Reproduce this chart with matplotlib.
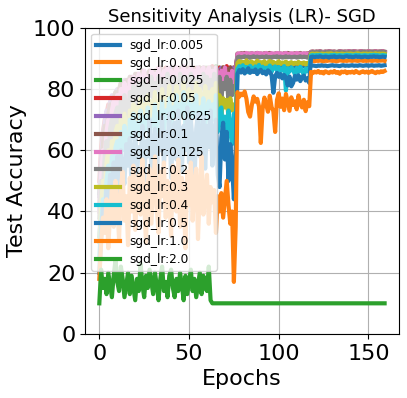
import numpy as np
import matplotlib
matplotlib.use("Agg")
import matplotlib.pyplot as plt

# test accuracy per epoch (0..159) for each SGD learning rate
lr_labels = ["sgd_lr:0.005", "sgd_lr:0.01", "sgd_lr:0.025", "sgd_lr:0.05", "sgd_lr:0.0625",
             "sgd_lr:0.1", "sgd_lr:0.125", "sgd_lr:0.2", "sgd_lr:0.3", "sgd_lr:0.4",
             "sgd_lr:0.5", "sgd_lr:1.0", "sgd_lr:2.0"]

acc_0005 = [32, 41, 47, 52, 55, 58, 60, 62, 64, 65,
            66, 68, 69, 70, 70, 71, 72, 73, 73, 74,
            74, 75, 75, 76, 76, 77, 77, 77, 78, 78,
            78, 79, 79, 79, 80, 80, 80, 80, 81, 81,
            81, 81, 82, 81, 82, 82, 82, 82, 83, 82,
            83, 83, 83, 83, 83, 84, 83, 84, 84, 84,
            84, 84, 84, 85, 84, 85, 85, 84, 85, 85,
            85, 85, 85, 85, 86, 85, 85, 87.2, 87.4, 87.3,
            87.5, 87.4, 87.6, 87.5, 87.3, 87.6, 87.5, 87.7, 87.4, 87.6,
            87.5, 87.3, 87.6, 87.4, 87.7, 87.5, 87.6, 87.4, 87.5, 87.3,
            87.6, 87.5, 87.4, 87.7, 87.5, 87.6, 87.3, 87.5, 87.6, 87.4,
            87.5, 87.6, 87.4, 87.5, 87.7, 87.3, 87.5, 87.6, 87.6, 87.7,
            87.6, 87.5, 87.7, 87.6, 87.8, 87.6, 87.7, 87.5, 87.6, 87.7,
            87.8, 87.6, 87.7, 87.6, 87.5, 87.7, 87.8, 87.6, 87.7, 87.6,
            87.7, 87.8, 87.6, 87.7, 87.6, 87.8, 87.7, 87.6, 87.7, 87.8,
            87.6, 87.7, 87.8, 87.6, 87.7, 87.7, 87.8, 87.6, 87.7, 87.8]

acc_001 = [40, 50, 56, 61, 64, 67, 69, 71, 72, 74,
           75, 76, 76, 77, 78, 78, 79, 79, 80, 80,
           80, 81, 81, 81, 82, 82, 82, 83, 82, 83,
           83, 83, 84, 83, 84, 84, 84, 84, 85, 84,
           85, 84, 85, 85, 85, 85, 86, 85, 85, 86,
           85, 86, 86, 85, 86, 86, 86, 86, 85, 86,
           86, 86, 86, 87, 86, 86, 87, 86, 86, 87,
           86, 87, 86, 87, 86, 87, 86, 88.3, 88.4, 88.2,
           88.4, 88.3, 88.5, 88.3, 88.4, 88.2, 88.4, 88.5, 88.3, 88.4,
           88.3, 88.5, 88.4, 88.2, 88.4, 88.3, 88.5, 88.4, 88.3, 88.4,
           88.5, 88.3, 88.4, 88.2, 88.4, 88.5, 88.3, 88.4, 88.3, 88.5,
           88.4, 88.3, 88.5, 88.4, 88.3, 88.4, 88.5, 88.3, 89.2, 89.3,
           89.1, 89.3, 89.2, 89.4, 89.2, 89.1, 89.3, 89.2, 89.4, 89.3,
           89.2, 89.3, 89.1, 89.2, 89.4, 89.3, 89.2, 89.3, 89.2, 89.4,
           89.3, 89.2, 89.4, 89.3, 89.2, 89.3, 89.4, 89.2, 89.3, 89.2,
           89.4, 89.3, 89.2, 89.3, 89.4, 89.2, 89.3, 89.3, 89.4, 89.2]

acc_0025 = [46, 58, 64, 68, 70, 73, 74, 76, 75, 78,
            77, 79, 78, 80, 79, 81, 80, 82, 81, 82,
            83, 82, 83, 84, 82, 84, 83, 85, 84, 83,
            85, 84, 85, 86, 84, 85, 86, 85, 86, 84,
            86, 85, 86, 87, 85, 86, 87, 86, 85, 87,
            86, 87, 86, 85, 87, 86, 87, 86, 87, 86,
            87, 86, 87, 86, 87, 87.5, 86, 87, 86.5, 87,
            86, 87, 86.5, 87, 86, 87, 86.5, 90.5, 90.7, 90.4,
            90.6, 90.5, 90.8, 90.4, 90.6, 90.7, 90.5, 90.6, 90.4, 90.7,
            90.5, 90.6, 90.8, 90.5, 90.4, 90.6, 90.7, 90.5, 90.6, 90.4,
            90.7, 90.5, 90.6, 90.4, 90.6, 90.8, 90.5, 90.6, 90.5, 90.7,
            90.6, 90.4, 90.6, 90.7, 90.5, 90.6, 90.4, 90.6, 91.5, 91.6,
            91.4, 91.6, 91.5, 91.7, 91.5, 91.4, 91.6, 91.5, 91.7, 91.6,
            91.5, 91.6, 91.4, 91.5, 91.7, 91.6, 91.5, 91.6, 91.5, 91.7,
            91.6, 91.5, 91.7, 91.6, 91.5, 91.6, 91.7, 91.5, 91.6, 91.5,
            91.7, 91.6, 91.5, 91.6, 91.7, 91.5, 91.6, 91.6, 91.7, 91.5]

acc_005 = [50, 61, 66, 70, 72, 75, 73, 77, 78, 76,
           79, 80, 78, 81, 82, 80, 83, 81, 84, 82,
           83, 85, 82, 84, 86, 83, 85, 84, 86, 83,
           85, 86, 84, 87, 85, 84, 86, 87, 85, 86,
           84, 87, 86, 85, 87, 86, 84, 87, 86, 85,
           87, 85, 86, 87, 84, 86, 87, 85, 87, 86,
           85, 87, 86, 87.5, 85, 87, 86, 87, 85.5, 87,
           86, 87.5, 86, 87, 86.5, 87, 86, 91.0, 91.2, 90.9,
           91.1, 91.0, 91.3, 90.9, 91.1, 91.2, 91.0, 91.1, 90.9, 91.2,
           91.0, 91.1, 91.3, 91.0, 90.9, 91.1, 91.2, 91.0, 91.1, 90.9,
           91.2, 91.0, 91.1, 90.9, 91.1, 91.3, 91.0, 91.1, 91.0, 91.2,
           91.1, 90.9, 91.1, 91.2, 91.0, 91.1, 90.9, 91.1, 91.8, 91.9,
           91.7, 91.9, 91.8, 92.0, 91.8, 91.7, 91.9, 91.8, 92.0, 91.9,
           91.8, 91.9, 91.7, 91.8, 92.0, 91.9, 91.8, 91.9, 91.8, 92.0,
           91.9, 91.8, 92.0, 91.9, 91.8, 91.9, 92.0, 91.8, 91.9, 91.8,
           92.0, 91.9, 91.8, 91.9, 92.0, 91.8, 91.9, 91.9, 92.0, 91.8]

acc_00625 = [45, 58, 65, 69, 73, 71, 76, 78, 75, 79,
             80, 78, 82, 80, 83, 81, 79, 84, 82, 83,
             81, 84, 85, 82, 84, 86, 83, 85, 82, 86,
             84, 86, 83, 85, 87, 84, 86, 85, 83, 86,
             87, 84, 86, 85, 87, 83, 86, 87, 85, 84,
             86, 87, 84, 86, 85, 87, 86, 84, 87, 85,
             86, 84, 87, 85, 86, 87, 84.5, 86, 87, 85,
             87, 85.5, 86.5, 84.5, 87, 85.5, 86, 91.3, 91.1, 91.4,
             91.2, 91.4, 91.1, 91.3, 91.5, 91.2, 91.3, 91.1, 91.4, 91.2,
             91.3, 91.5, 91.2, 91.1, 91.3, 91.4, 91.2, 91.3, 91.5, 91.2,
             91.1, 91.3, 91.4, 91.2, 91.5, 91.3, 91.1, 91.3, 91.2, 91.4,
             91.3, 91.2, 91.4, 91.1, 91.3, 91.2, 91.4, 91.3, 92.0, 92.1,
             91.9, 92.1, 92.0, 92.2, 92.0, 91.9, 92.1, 92.0, 92.2, 92.1,
             92.0, 92.1, 91.9, 92.0, 92.2, 92.1, 92.0, 92.1, 92.0, 92.2,
             92.1, 92.0, 92.2, 92.1, 92.0, 92.1, 92.2, 92.0, 92.1, 92.0,
             92.2, 92.1, 92.0, 92.1, 92.2, 92.0, 92.1, 92.1, 92.2, 92.0]

acc_01 = [42, 55, 62, 68, 66, 72, 75, 70, 77, 79,
          76, 80, 82, 78, 81, 83, 79, 84, 81, 83,
          85, 80, 84, 82, 86, 83, 81, 85, 86, 82,
          84, 86, 82, 85, 87, 83, 86, 84, 87, 85,
          82, 86, 87, 84, 85, 87, 83, 86, 85, 87,
          84, 86, 87, 83, 86, 85, 87, 84, 86, 87,
          85, 83, 87, 86, 84, 87, 85, 86, 84, 87,
          85, 86.5, 84, 87, 85.5, 86, 84.5, 91.6, 91.4, 91.7,
          91.5, 91.8, 91.4, 91.6, 91.5, 91.7, 91.4, 91.6, 91.8, 91.5,
          91.6, 91.4, 91.7, 91.5, 91.6, 91.8, 91.5, 91.4, 91.6, 91.7,
          91.5, 91.6, 91.4, 91.7, 91.5, 91.8, 91.6, 91.4, 91.5, 91.7,
          91.6, 91.5, 91.8, 91.4, 91.6, 91.5, 91.7, 91.5, 92.2, 92.3,
          92.1, 92.3, 92.2, 92.4, 92.2, 92.1, 92.3, 92.2, 92.4, 92.3,
          92.2, 92.3, 92.1, 92.2, 92.4, 92.3, 92.2, 92.3, 92.2, 92.4,
          92.3, 92.2, 92.4, 92.3, 92.2, 92.3, 92.4, 92.2, 92.3, 92.2,
          92.4, 92.3, 92.2, 92.3, 92.4, 92.2, 92.3, 92.3, 92.4, 92.2]

acc_0125 = [40, 52, 60, 57, 66, 70, 64, 73, 76, 71,
            78, 74, 80, 77, 82, 79, 75, 83, 80, 84,
            78, 82, 85, 80, 83, 86, 79, 84, 82, 86,
            81, 85, 83, 87, 80, 84, 86, 82, 87, 84,
            86, 81, 85, 87, 83, 86, 84, 87.5, 82, 86,
            85, 87, 82, 86, 84, 87, 83, 86, 87, 81,
            85, 87, 83, 86, 84, 87, 85, 80, 86, 83,
            87, 81, 85, 79, 86, 82, 84, 91.5, 91.7, 91.3,
            91.6, 91.4, 91.8, 91.5, 91.3, 91.7, 91.6, 91.4, 91.8, 91.5,
            91.7, 91.3, 91.6, 91.8, 91.4, 91.5, 91.7, 91.6, 91.3, 91.8,
            91.5, 91.7, 91.4, 91.6, 91.8, 91.5, 91.3, 91.7, 91.6, 91.4,
            91.8, 91.5, 91.6, 91.4, 91.7, 91.5, 91.6, 91.4, 92.1, 92.2,
            92.0, 92.2, 92.1, 92.3, 92.1, 92.0, 92.2, 92.1, 92.3, 92.2,
            92.1, 92.2, 92.0, 92.1, 92.3, 92.2, 92.1, 92.2, 92.1, 92.3,
            92.2, 92.1, 92.3, 92.2, 92.1, 92.2, 92.3, 92.1, 92.2, 92.1,
            92.3, 92.2, 92.1, 92.2, 92.3, 92.1, 92.2, 92.2, 92.3, 92.1]

acc_02 = [38, 50, 47, 58, 63, 56, 67, 70, 62, 72,
          74, 68, 76, 72, 78, 74, 70, 79, 76, 81,
          73, 79, 82, 76, 80, 83, 75, 81, 78, 84,
          77, 82, 80, 84, 76, 83, 81, 78, 85, 80,
          83, 77, 84, 81, 79, 85, 82, 78, 84, 80,
          82, 85, 78, 83, 80, 84, 77, 83, 85, 79,
          84, 80, 83, 78, 85, 81, 79, 84, 77, 82,
          80, 84, 76, 83, 78, 81, 79, 90.4, 90.6, 90.3,
          90.5, 90.7, 90.4, 90.6, 90.2, 90.5, 90.7, 90.4, 90.6, 90.3,
          90.5, 90.6, 90.3, 90.7, 90.4, 90.5, 90.2, 90.6, 90.5, 90.7,
          90.4, 90.6, 90.3, 90.5, 90.7, 90.4, 90.6, 90.3, 90.5, 90.6,
          90.3, 90.5, 90.7, 90.4, 90.6, 90.5, 90.3, 90.6, 92.0, 92.1,
          91.9, 92.1, 92.0, 92.2, 92.0, 91.9, 92.1, 92.0, 92.2, 92.0,
          92.1, 92.0, 91.9, 92.1, 92.2, 92.0, 92.1, 92.0, 91.9, 92.1,
          92.0, 92.2, 92.1, 92.0, 91.9, 92.1, 92.0, 92.2, 92.1, 92.0,
          92.1, 92.0, 92.2, 91.9, 92.1, 92.0, 92.1, 92.2, 92.0, 92.1]

acc_03 = [30, 42, 50, 45, 56, 60, 52, 63, 58, 66,
          68, 61, 70, 65, 72, 67, 62, 73, 69, 75,
          66, 74, 70, 77, 68, 75, 72, 78, 70, 76,
          73, 79, 69, 76, 74, 80, 71, 77, 75, 81,
          72, 78, 76, 81, 73, 79, 75, 82, 74, 78,
          80, 73, 79, 76, 82, 74, 80, 77, 72, 81,
          75, 79, 73, 80, 76, 82, 74, 78, 71, 77,
          74, 76.5, 71, 77, 73, 75, 72, 88.5, 89.2, 88.0,
          88.9, 88.3, 89.4, 88.1, 88.8, 89.0, 87.9, 88.6, 89.3, 88.2,
          88.8, 88.4, 89.1, 87.8, 88.7, 89.2, 88.3, 88.9, 88.0, 88.6,
          89.1, 88.2, 88.7, 88.4, 89.0, 87.9, 88.5, 88.8, 88.1, 88.6,
          88.3, 88.9, 87.9, 88.4, 88.7, 88.0, 88.5, 88.2, 91.5, 91.6,
          91.4, 91.6, 91.5, 91.3, 91.6, 91.5, 91.4, 91.6, 91.5, 91.7,
          91.5, 91.4, 91.6, 91.5, 91.3, 91.6, 91.5, 91.4, 91.6, 91.5,
          91.6, 91.5, 91.4, 91.6, 91.7, 91.5, 91.4, 91.6, 91.5, 91.6,
          91.4, 91.6, 91.5, 91.5, 91.7, 91.4, 91.6, 91.5, 91.6, 91.5]

acc_04 = [25, 36, 44, 40, 50, 55, 47, 58, 53, 61,
          63, 55, 66, 60, 68, 62, 57, 70, 64, 72,
          60, 69, 65, 73, 62, 71, 67, 74, 63, 70,
          68, 75, 64, 72, 69, 76, 65, 73, 70, 77,
          66, 74, 71, 78, 67, 75, 72, 79, 68, 73,
          76, 69, 75, 71, 78, 66, 74, 72, 77, 68,
          73, 76, 67, 75, 70, 78, 66, 72, 74, 64,
          71, 60, 73, 68, 62, 72, 66, 86.5, 87.5, 86.0,
          87.8, 86.3, 87.2, 85.5, 87.6, 86.8, 85.9, 87.4, 86.2, 87.9,
          86.0, 87.3, 85.8, 87.0, 86.4, 87.7, 85.6, 86.9, 87.4, 86.1,
          87.2, 85.9, 86.6, 87.5, 79.5, 86.8, 85.7, 87.1, 86.3, 84.8,
          86.9, 85.6, 87.3, 86.0, 84.5, 86.7, 85.8, 86.4, 91.0, 91.1,
          90.9, 91.1, 91.0, 91.2, 91.0, 90.9, 91.1, 91.0, 90.8, 91.1,
          91.0, 91.2, 90.9, 91.0, 91.1, 91.0, 90.9, 91.1, 91.2, 91.0,
          91.1, 90.9, 91.0, 91.2, 91.0, 91.1, 90.9, 91.0, 91.1, 91.0,
          90.9, 91.1, 91.0, 91.2, 91.0, 91.1, 90.9, 91.0, 91.1, 91.0]

acc_05 = [20, 32, 41, 36, 48, 43, 52, 46, 56, 50,
          58, 45, 60, 53, 49, 62, 55, 64, 47, 59,
          66, 52, 61, 57, 68, 50, 63, 58, 70, 54,
          62, 67, 48, 65, 60, 71, 55, 66, 59, 72,
          51, 64, 69, 57, 73, 62, 53, 68, 60, 74,
          56, 70, 63, 49, 67, 72, 58, 65, 71, 54,
          68, 61, 73, 55, 66, 70, 52, 48, 64, 69,
          57, 66, 50, 62, 55, 44, 60, 85.0, 86.2, 85.4,
          86.5, 85.1, 85.9, 86.8, 85.3, 86.0, 85.6, 86.4, 84.9, 85.8,
          86.3, 85.2, 85.7, 84.8, 86.1, 85.5, 84.6, 78.8, 84.2, 85.3,
          84.0, 84.9, 83.5, 84.6, 83.8, 81.2, 84.1, 80.9, 82.0, 84.3,
          83.1, 84.5, 82.6, 83.9, 84.4, 82.8, 83.5, 82.0, 90.5, 90.6,
          90.4, 90.6, 90.5, 90.7, 90.5, 90.4, 90.6, 90.5, 90.3, 90.6,
          90.5, 90.7, 90.4, 90.5, 90.6, 90.5, 90.4, 90.6, 90.7, 90.5,
          90.6, 90.4, 90.5, 90.7, 90.5, 90.6, 90.4, 90.5, 90.6, 90.5,
          90.4, 90.6, 90.5, 90.7, 90.5, 90.6, 90.4, 90.5, 90.6, 90.5]

acc_10 = [18, 30, 38, 33, 44, 28, 40, 47, 35, 50,
          42, 31, 48, 53, 37, 45, 29, 51, 40, 55,
          34, 46, 52, 39, 57, 43, 30, 49, 54, 36,
          47, 58, 41, 33, 53, 45, 56, 38, 50, 44,
          32, 55, 48, 40, 57, 35, 51, 46, 28, 53,
          42, 56, 37, 49, 54, 31, 47, 58, 39, 45,
          52, 36, 48, 43, 47, 33, 45, 40, 46, 38,
          44, 50, 42, 36, 40, 17, 35, 79.0, 77.5, 78.5,
          78.0, 79.2, 76.8, 72.5, 71.0, 74.8, 77.6, 75.9, 76.8, 74.3,
          62.4, 73.5, 77.2, 75.0, 72.6, 77.8, 74.1, 72.8, 66.0, 76.4,
          78.6, 74.2, 76.9, 73.1, 78.4, 75.6, 72.9, 77.3, 74.8, 76.0,
          73.4, 77.9, 75.2, 74.0, 76.5, 72.8, 75.7, 74.4, 85.6, 85.2,
          85.7, 85.4, 85.9, 85.3, 85.6, 85.1, 85.8, 85.5, 85.2, 85.7,
          85.4, 85.9, 85.3, 85.6, 85.0, 85.7, 85.5, 85.8, 85.2, 85.6,
          85.4, 85.7, 85.3, 85.9, 85.5, 85.2, 85.6, 85.8, 85.4, 85.7,
          85.3, 85.6, 85.9, 85.5, 85.2, 85.7, 85.4, 85.8, 85.6, 85.9]

acc_20 = [10, 21, 15, 18, 13, 20, 16, 12, 19, 24,
          17, 14, 22, 18, 12, 16, 20, 13, 19, 15,
          11, 18, 14, 23, 16, 12, 19, 15, 21, 17,
          13, 20, 16, 11, 18, 22, 14, 17, 12, 19,
          21, 15, 12, 18, 14, 20, 16, 11, 19, 13,
          17, 21, 14, 18, 12, 16, 20, 13, 19, 15,
          14, 22, 11] + [10.0] * 97

all_acc = [acc_0005, acc_001, acc_0025, acc_005, acc_00625, acc_01, acc_0125,
           acc_02, acc_03, acc_04, acc_05, acc_10, acc_20]

fig = plt.figure(figsize=(4.07, 3.98), dpi=100)
ax = fig.add_axes([0.209, 0.161, 0.771, 0.769])

for vals, lab in zip(all_acc, lr_labels):
    ax.plot(np.arange(len(vals)), vals, linewidth=3, label=lab)

ax.set_ylim(0, 100)
ax.set_yticks([0, 20, 40, 60, 80, 100])
ax.grid(True)
ax.tick_params(labelsize=16)
ax.set_xlabel("Epochs", fontsize=16)
ax.set_ylabel("Test Accuracy", fontsize=16)
ax.set_title("Sensitivity Analysis (LR)- SGD", fontsize=13, pad=4)
ax.legend(loc="upper left", fontsize=8.7, labelspacing=0.4)

fig.savefig("out.png", dpi=100)
